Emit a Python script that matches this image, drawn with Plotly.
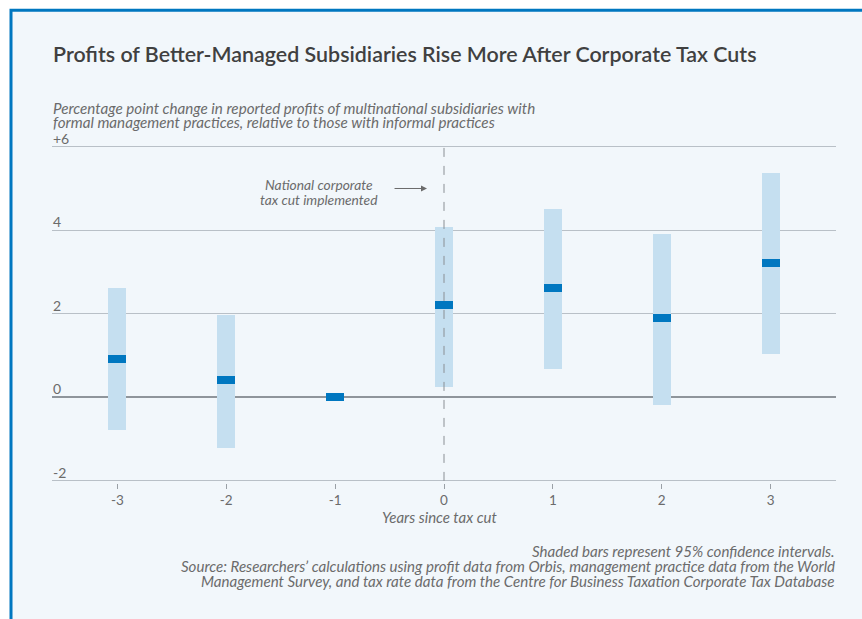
import plotly.graph_objects as go

# Event-study estimates: years relative to the national corporate tax cut
years = [-3, -2, -1, 0, 1, 2, 3]
estimate = [0.91, 0.41, 0.0, 2.20, 2.61, 1.89, 3.21]
ci_low = [-0.77, -1.22, 0.0, 0.26, 0.69, -0.18, 1.03]
ci_high = [2.61, 1.96, 0.0, 4.07, 4.50, 3.90, 5.37]

y_ticks = [-2, 0, 2, 4, 6]
y_tick_labels = ["-2", "0", "2", "4", "+6"]
x_tick_labels = ["-3", "-2", "-1", "0", "1", "2", "3"]

title_text = "Profits of Better-Managed Subsidiaries Rise More After Corporate Tax Cuts"
subtitle_lines = [
    "Percentage point change in reported profits of multinational subsidiaries with",
    "formal management practices, relative to those with informal practices",
]
callout_lines = ["National corporate", "tax cut implemented"]
footer_lines = [
    "Shaded bars represent 95% confidence intervals.",
    "Source: Researchers\u2019 calculations using profit data from Orbis, management practice data from the World",
    "Management Survey, and tax rate data from the Centre for Business Taxation Corporate Tax Database",
]

FONT = "Lato"
GREY = "#6b6b6b"
BLUE = "#0077c0"
LIGHT_BLUE = "#c5dff0"
BAR_W = 0.166
EST_H = 0.19

fig = go.Figure()

# Confidence-interval bars
fig.add_trace(go.Bar(
    x=years,
    y=[h - l for h, l in zip(ci_high, ci_low)],
    base=ci_low,
    width=BAR_W,
    marker=dict(color=LIGHT_BLUE, line=dict(width=0)),
    hoverinfo="skip",
    showlegend=False,
))

# Point estimates drawn as short thick bands
fig.add_trace(go.Bar(
    x=years,
    y=[EST_H] * len(years),
    base=[e - EST_H / 2 for e in estimate],
    width=BAR_W,
    marker=dict(color=BLUE, line=dict(width=0)),
    customdata=estimate,
    hovertemplate="%{x}: %{customdata}<extra></extra>",
    showlegend=False,
))

W, H = 862, 619
ML, MR, MT, MB = 52, 26, 130, 136
Y_RANGE = [-2.05, 6.4]
pw = W - ML - MR
ph = H - MT - MB


def px_x(p):
    return (p - ML) / pw


def px_y(p):
    return (H - MB - p) / ph


shapes = [
    # card background with blue frame
    dict(type="rect", xref="paper", yref="paper",
         x0=px_x(11), x1=px_x(W + 20), y0=px_y(H + 20), y1=px_y(10.2),
         fillcolor="#f2f7fb", line=dict(color=BLUE, width=3), layer="below"),
    # tax cut marker
    dict(type="line", xref="x", yref="y", x0=0, x1=0, y0=-2, y1=6,
         line=dict(color="#8a8f94", width=1, dash="dash"), layer="above"),
]

annotations = [
    dict(text=title_text, xref="paper", yref="paper", x=px_x(51), y=px_y(54),
         xanchor="left", yanchor="middle", showarrow=False,
         font=dict(family=FONT, size=21.4, color="#404040", weight=600)),
    dict(text="", xref="x", yref="y", x=-0.156, y=5.0, axref="x", ayref="y",
         ax=-0.468, ay=5.0, showarrow=True, arrowhead=2, arrowsize=1.2,
         arrowwidth=1, arrowcolor=GREY),
    dict(text="Years since tax cut", xref="x", yref="paper", x=0, y=px_y(517),
         xanchor="center", yanchor="middle", xshift=-5, showarrow=False,
         font=dict(family=FONT, size=15, color=GREY, style="italic")),
]

# y tick labels sit on top of their gridlines at the left edge
for v, lab in zip(y_ticks, y_tick_labels):
    annotations.append(dict(
        text=lab, xref="paper", yref="y", x=0, y=v, xanchor="left", yanchor="bottom",
        xshift=-1, yshift=-2, showarrow=False,
        font=dict(family=FONT, size=14, color=GREY)))

for i, line in enumerate(subtitle_lines):
    annotations.append(dict(
        text=line, xref="paper", yref="paper", x=px_x(51), y=px_y(108 + 14.5 * i),
        xanchor="left", yanchor="middle", showarrow=False,
        font=dict(family=FONT, size=15.2, color=GREY, style="italic")))

for i, line in enumerate(callout_lines):
    annotations.append(dict(
        text=line, xref="x", yref="paper", x=-1.15, y=px_y(184 + 15 * i),
        xanchor="center", yanchor="middle", showarrow=False,
        font=dict(family=FONT, size=13.8, color=GREY, style="italic")))

for i, line in enumerate(footer_lines):
    annotations.append(dict(
        text=line, xref="paper", yref="paper", x=px_x(837), y=px_y(551 + 15 * i),
        xanchor="right", yanchor="middle", showarrow=False,
        font=dict(family=FONT, size=15.1, color=GREY, style="italic")))

fig.update_layout(
    width=W, height=H,
    margin=dict(l=ML, r=MR, t=MT, b=MB, pad=0),
    paper_bgcolor="white",
    plot_bgcolor="rgba(0,0,0,0)",
    barmode="overlay",
    bargap=0,
    showlegend=False,
    shapes=shapes,
    annotations=annotations,
    xaxis=dict(
        range=[-3.6, 3.6], tickvals=years, ticktext=x_tick_labels,
        showgrid=False, zeroline=False, showline=False,
        ticks="outside", ticklen=5, tickcolor="#9aa0a6", tickwidth=1,
        tickfont=dict(family=FONT, size=13.5, color=GREY),
    ),
    yaxis=dict(
        range=Y_RANGE, tickvals=y_ticks, showticklabels=False,
        showgrid=True, gridcolor="#b9c0c7", gridwidth=1.3,
        zeroline=True, zerolinecolor="#8f959b", zerolinewidth=1.6,
        showline=False, ticks="",
    ),
)

fig.write_html("out.html")
